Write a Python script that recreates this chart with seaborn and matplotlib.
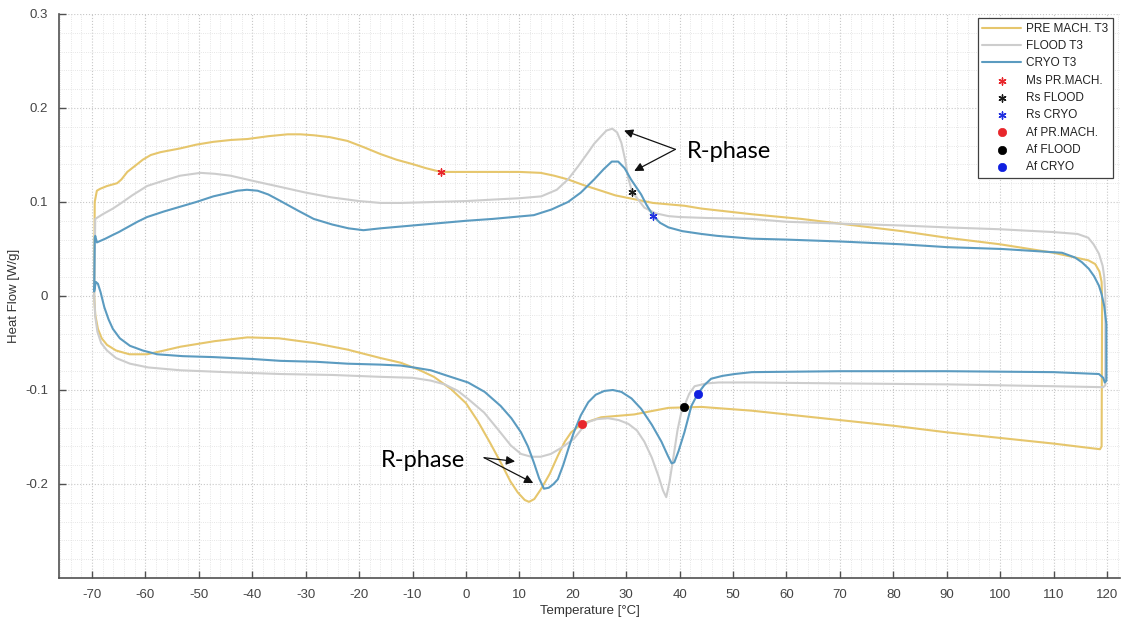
import numpy as np
import pandas as pd
import matplotlib
matplotlib.use("Agg")
import matplotlib.pyplot as plt
from matplotlib.ticker import MultipleLocator, FixedLocator, FixedFormatter
import seaborn as sns

# ---- DSC loops: heating branch (-70 -> 120 degC), then cooling branch back to -70 ----
pre_temp = [
    -69.6, -69.4, -68.9, -68.2, -67.2, -65.5, -63.0, -59.7, -56.5, -53.5, -47.0, -40.9,
    -35.0, -28.5, -22.2, -16.0, -12.2, -9.0, -6.0, -2.8, 0.0, 2.2, 4.5, 6.5, 8.3, 9.7,
    11.0, 11.8, 12.8, 14.1, 15.7, 17.2, 18.5, 19.7, 21.7, 25.3, 31.5, 37.9, 44.1, 53.5,
    70.0, 80.0, 90.0, 100.0, 110.0, 118.7, 119.0, 119.1,
    119.0, 118.6, 117.8, 116.5, 114.0, 110.0, 100.0, 90.0, 81.6, 70.0, 62.8, 53.5, 44.1,
    40.9, 35.0, 31.5, 28.0, 25.3, 22.0, 19.1, 16.5, 14.0, 10.0, 5.0, 0.0, -4.7, -7.5,
    -9.8, -13.0, -16.0, -19.0, -22.2, -25.5, -28.5, -31.0, -33.4, -37.0, -40.9, -44.0,
    -47.3, -50.5, -53.5, -57.2, -59.0, -60.5, -61.6, -63.4, -64.5, -65.3, -67.2, -68.5,
    -69.1, -69.5, -69.6,
]
pre_flow = [
    0.000, -0.020, -0.035, -0.045, -0.052, -0.058, -0.062, -0.062, -0.058, -0.054, -0.048, -0.044,
    -0.045, -0.050, -0.057, -0.066, -0.071, -0.078, -0.086, -0.099, -0.114, -0.133, -0.156, -0.177, -0.197, -0.209,
    -0.217, -0.219, -0.216, -0.205, -0.189, -0.170, -0.155, -0.145, -0.136, -0.129, -0.126, -0.119, -0.118, -0.122,
    -0.132, -0.138, -0.145, -0.151, -0.157, -0.163, -0.160, -0.005,
    0.015, 0.026, 0.034, 0.038, 0.041, 0.046, 0.055, 0.062, 0.069, 0.077, 0.082, 0.087, 0.093,
    0.096, 0.099, 0.103, 0.107, 0.112, 0.118, 0.124, 0.128, 0.131, 0.132, 0.132, 0.132, 0.132, 0.136,
    0.140, 0.145, 0.151, 0.158, 0.165, 0.169, 0.171, 0.172, 0.172, 0.170, 0.167, 0.166,
    0.164, 0.161, 0.157, 0.153, 0.150, 0.145, 0.140, 0.132, 0.124, 0.120, 0.117, 0.114,
    0.112, 0.100, 0.000,
]

flood_temp = [
    -69.6, -69.4, -69.0, -68.3, -67.2, -65.5, -62.9, -59.5, -53.5, -45.0, -34.7, -25.0,
    -16.0, -10.0, -6.6, -4.0, -1.5, 0.5, 3.4, 6.0, 8.4, 10.3, 12.2, 14.0, 15.9, 18.0,
    20.2, 21.6, 22.9, 24.5, 26.6, 28.6, 30.4, 32.0, 33.4, 34.8, 36.0, 36.9, 37.5, 38.1,
    38.8, 39.6, 40.3, 40.8, 41.8, 42.8, 45.0, 47.3, 53.5, 70.0, 90.0, 110.0, 119.3, 119.7, 119.7,
    119.5, 119.2, 118.5, 117.5, 116.5, 114.5, 110.0, 100.0, 90.0, 81.6, 70.0, 60.0, 53.5,
    45.0, 40.0, 37.9, 35.5, 33.4, 31.1, 30.4, 29.8, 29.1, 28.3, 27.4, 26.3, 25.3, 24.0,
    22.9, 21.0, 19.1, 17.0, 14.1, 10.0, 6.5, 0.0, -6.0, -12.2, -16.0, -20.0, -25.3, -30.0,
    -34.7, -39.5, -44.1, -47.0, -49.7, -53.5, -57.0, -59.7, -62.5, -64.5, -66.1, -68.0,
    -69.4, -69.6,
]
flood_flow = [
    0.000, -0.022, -0.038, -0.050, -0.058, -0.066, -0.072, -0.076, -0.079, -0.081, -0.083, -0.084,
    -0.086, -0.087, -0.090, -0.094, -0.101, -0.110, -0.124, -0.142, -0.159, -0.168, -0.171, -0.171, -0.168, -0.161,
    -0.152, -0.142, -0.134, -0.131, -0.130, -0.132, -0.136, -0.143, -0.155, -0.172, -0.191, -0.207, -0.214, -0.198,
    -0.173, -0.143, -0.124, -0.118, -0.104, -0.096, -0.093, -0.092, -0.092, -0.093, -0.094, -0.096, -0.097, -0.095, 0.000,
    0.020, 0.032, 0.045, 0.055, 0.062, 0.066, 0.068, 0.071, 0.073, 0.075, 0.077, 0.079, 0.082,
    0.083, 0.084, 0.085, 0.088, 0.094, 0.111, 0.125, 0.145, 0.163, 0.174, 0.178, 0.176, 0.170, 0.162,
    0.153, 0.138, 0.124, 0.113, 0.106, 0.104, 0.103, 0.101, 0.100, 0.099, 0.099, 0.101, 0.105, 0.110,
    0.116, 0.122, 0.128, 0.130, 0.131, 0.128, 0.122, 0.117, 0.107, 0.099, 0.093, 0.087,
    0.082, 0.000,
]

cryo_temp = [
    -69.6, -69.3, -68.9, -68.4, -67.7, -66.9, -66.1, -64.8, -62.9, -60.5, -57.8, -53.0,
    -47.3, -40.0, -34.7, -28.0, -22.2, -16.0, -12.2, -9.8, -6.6, -3.4, 0.4, 3.5, 6.5, 8.5,
    10.3, 11.6, 12.7, 13.7, 14.6, 15.5, 16.4, 17.2, 18.2, 19.2, 20.2, 21.5, 22.9, 24.3,
    25.9, 27.5, 29.1, 31.0, 32.8, 34.8, 36.6, 37.8, 38.5, 39.0, 39.8, 40.9, 41.6, 42.2,
    43.4, 44.6, 45.9, 48.0, 50.3, 53.5, 70.0, 90.0, 110.0, 118.5, 119.3, 119.6, 119.9, 119.9,
    119.5, 119.0, 118.5, 117.6, 116.6, 115.3, 114.0, 111.6, 106.0, 100.4, 90.0, 81.6, 70.0,
    60.0, 53.5, 47.0, 44.1, 40.5, 37.9, 36.3, 35.1, 33.8, 32.8, 30.9, 29.7, 28.5, 27.3,
    25.8, 24.0, 21.5, 19.1, 16.0, 12.7, 5.0, 0.0, -6.0, -12.2, -16.0, -19.2, -22.0, -25.0,
    -28.5, -31.5, -34.7, -37.0, -39.0, -41.0, -42.8, -45.0, -47.3, -50.5, -53.5, -56.5,
    -59.7, -61.5, -63.4, -65.0, -66.1, -67.5, -69.1, -69.4, -69.5, -69.6,
]
cryo_flow = [
    0.005, 0.015, 0.013, 0.004, -0.012, -0.025, -0.035, -0.045, -0.053, -0.058, -0.062, -0.064,
    -0.065, -0.067, -0.069, -0.070, -0.072, -0.073, -0.074, -0.076, -0.079, -0.085, -0.092, -0.102, -0.117, -0.130,
    -0.145, -0.160, -0.177, -0.194, -0.205, -0.204, -0.200, -0.195, -0.180, -0.162, -0.145, -0.127, -0.113, -0.105,
    -0.101, -0.100, -0.102, -0.109, -0.120, -0.137, -0.155, -0.170, -0.178, -0.177, -0.165, -0.145, -0.130, -0.117,
    -0.104, -0.095, -0.088, -0.085, -0.083, -0.081, -0.080, -0.080, -0.081, -0.083, -0.087, -0.092, -0.090, -0.030,
    -0.011, 0.002, 0.011, 0.021, 0.029, 0.036, 0.041, 0.046, 0.048, 0.050, 0.052, 0.055, 0.058,
    0.060, 0.061, 0.064, 0.066, 0.069, 0.073, 0.078, 0.085, 0.097, 0.108, 0.124, 0.136, 0.143, 0.143,
    0.135, 0.124, 0.110, 0.100, 0.092, 0.086, 0.082, 0.080, 0.077, 0.074, 0.072, 0.070, 0.072, 0.076,
    0.082, 0.091, 0.101, 0.108, 0.112, 0.113, 0.112, 0.109, 0.106, 0.100, 0.095, 0.090,
    0.084, 0.079, 0.073, 0.068, 0.065, 0.061, 0.057, 0.064, 0.062, 0.005,
]

# ---- characteristic points ----
point_labels = ["Ms PR.MACH.", "Rs FLOOD", "Rs CRYO", "Af PR.MACH.", "Af FLOOD", "Af CRYO"]
point_temp = [-4.7, 31.1, 35.1, 21.7, 40.8, 43.4]
point_flow = [0.132, 0.111, 0.085, -0.136, -0.118, -0.104]

series_labels = ["PRE MACH. T3", "FLOOD T3", "CRYO T3"]

x_ticks = list(range(-70, 121, 10))
x_tick_labels = [str(v) for v in x_ticks]
y_ticks = [-0.2, -0.1, 0.0, 0.1, 0.2, 0.3]
y_tick_labels = ["-0.2", "-0.1", "0", "0.1", "0.2", "0.3"]

# ---- styling ----
sns.set_style("white")
plt.rcParams["font.family"] = ["Liberation Sans", "DejaVu Sans"]

line_colors = ["#e6c66c", "#cdcdcd", "#5b9bc0"]
point_colors = ["#e8262b", "#1a1a1a", "#2030e0", "#e8262b", "#000000", "#1020e0"]
point_markers = [(6, 2, 0), (6, 2, 0), (6, 2, 0), "o", "o", "o"]

fig = plt.figure(figsize=(11.22, 6.25), dpi=100)
ax = fig.add_axes([0.053, 0.0752, 0.945, 0.9024])

curves = pd.concat([
    pd.DataFrame({"T": pre_temp, "H": pre_flow, "s": series_labels[0], "i": np.arange(len(pre_temp))}),
    pd.DataFrame({"T": flood_temp, "H": flood_flow, "s": series_labels[1], "i": np.arange(len(flood_temp))}),
    pd.DataFrame({"T": cryo_temp, "H": cryo_flow, "s": series_labels[2], "i": np.arange(len(cryo_temp))}),
])

for lab, col in zip(series_labels, line_colors):
    sub = curves[curves["s"] == lab]
    sns.lineplot(data=sub, x="T", y="H", sort=False, estimator=None, color=col,
                 linewidth=1.5, label=lab, ax=ax)

for lab, t, h, col, mk in zip(point_labels, point_temp, point_flow, point_colors, point_markers):
    if mk == "o":
        sns.scatterplot(x=[t], y=[h], marker="o", s=36, color=col, edgecolor=col,
                        linewidth=0.5, label=lab, ax=ax, zorder=5)
    else:
        sns.scatterplot(x=[t], y=[h], marker=mk, s=26, color=col, edgecolor=col,
                        linewidth=1.0, label=lab, ax=ax, zorder=5)

# ---- annotations ----
ax.text(41.3, 0.154, "R-phase", fontsize=17, family=["Lato", "DejaVu Sans"],
        color="black", va="center", ha="left")
for tgt in [(29.6, 0.176), (31.5, 0.133)]:
    ax.annotate("", xy=tgt, xytext=(39.2, 0.156),
                arrowprops=dict(arrowstyle="-|>", color="#111111", lw=0.9,
                                mutation_scale=13, shrinkA=0, shrinkB=0))
ax.text(-16.0, -0.175, "R-phase", fontsize=17, family=["Lato", "DejaVu Sans"],
        color="black", va="center", ha="left")
for tgt in [(9.2, -0.176), (12.6, -0.199)]:
    ax.annotate("", xy=tgt, xytext=(3.4, -0.172),
                arrowprops=dict(arrowstyle="-|>", color="#111111", lw=0.9,
                                mutation_scale=13, shrinkA=0, shrinkB=0))

# ---- axes ----
ax.set_xlim(-76.1, 122.4)
ax.set_ylim(-0.3, 0.3)
ax.xaxis.set_major_locator(FixedLocator(x_ticks))
ax.xaxis.set_major_formatter(FixedFormatter(x_tick_labels))
ax.yaxis.set_major_locator(FixedLocator(y_ticks))
ax.yaxis.set_major_formatter(FixedFormatter(y_tick_labels))
ax.xaxis.set_minor_locator(MultipleLocator(2))
ax.yaxis.set_minor_locator(MultipleLocator(0.02))

ax.grid(which="major", linestyle=":", color="#c8c8c8", linewidth=0.8)
ax.grid(which="minor", linestyle=":", color="#dedede", linewidth=0.6)
ax.set_axisbelow(True)

for side in ["top", "right"]:
    ax.spines[side].set_visible(False)
for side in ["left", "bottom"]:
    ax.spines[side].set_color("#505050")
    ax.spines[side].set_linewidth(1.2)

ax.tick_params(which="major", direction="in", length=5, width=1, color="#505050",
               labelsize=9.5, labelcolor="#444444", bottom=True, left=True, pad=8)
ax.tick_params(which="minor", length=0)

ax.set_xlabel("Temperature [°C]", fontsize=9.5, color="#333333", labelpad=3)
ax.set_ylabel("Heat Flow [W/g]", fontsize=9.5, color="#333333", labelpad=5)
ax.yaxis.set_label_coords(-0.0375, 0.5)

leg = ax.legend(loc="upper right", bbox_to_anchor=(0.9934, 0.993), borderaxespad=0,
                fontsize=8.5, frameon=True, fancybox=False, framealpha=1,
                edgecolor="#404040", labelspacing=0.45, handlelength=3.3,
                handletextpad=0.4, borderpad=0.4)
leg.get_frame().set_linewidth(0.9)
for txt in leg.get_texts():
    txt.set_color("#222222")

fig.savefig("out.png", dpi=100)
